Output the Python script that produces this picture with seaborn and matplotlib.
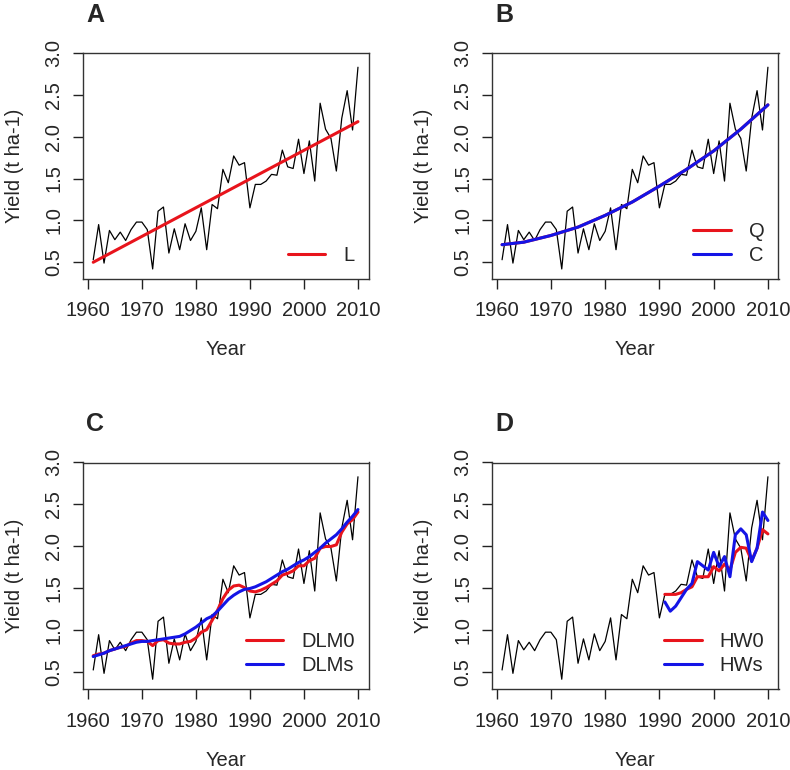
import numpy as np
import matplotlib
matplotlib.use("Agg")
import matplotlib.pyplot as plt
import seaborn as sns

# ── Data ──────────────────────────────────────────────────────────────────────
YEARS = list(range(1961, 2011))

YIELD = [0.53, 0.95, 0.49, 0.88, 0.77, 0.86, 0.76, 0.89, 0.98, 0.98,
         0.89, 0.42, 1.11, 1.16, 0.61, 0.90, 0.65, 0.96, 0.76, 0.87,
         1.15, 0.65, 1.19, 1.14, 1.61, 1.45, 1.77, 1.66, 1.69, 1.15,
         1.43, 1.43, 1.47, 1.55, 1.54, 1.84, 1.64, 1.62, 1.97, 1.56,
         1.95, 1.47, 2.40, 2.09, 1.98, 1.59, 2.22, 2.55, 2.08, 2.83]

# A: linear trend (end points)
L_YEARS = [1961, 2010]
L_VALS  = [0.50, 2.18]

# B: quadratic / cubic trends
QC_YEARS = [1961, 1965, 1970, 1975, 1980, 1985, 1990, 1995, 2000, 2005, 2010]
Q_VALS   = [0.71, 0.74, 0.82, 0.92, 1.06, 1.22, 1.41, 1.61, 1.83, 2.09, 2.38]
C_VALS   = [0.71, 0.74, 0.82, 0.92, 1.06, 1.22, 1.41, 1.61, 1.83, 2.09, 2.38]

# C: dynamic linear models
DLM0 = [0.70, 0.72, 0.73, 0.76, 0.78, 0.80, 0.81, 0.85, 0.88, 0.88,
        0.87, 0.82, 0.88, 0.89, 0.85, 0.84, 0.84, 0.86, 0.87, 0.91,
        0.98, 1.01, 1.12, 1.24, 1.38, 1.48, 1.53, 1.54, 1.51, 1.47,
        1.46, 1.48, 1.51, 1.55, 1.59, 1.66, 1.68, 1.71, 1.77, 1.77,
        1.83, 1.86, 1.98, 2.00, 2.00, 2.02, 2.17, 2.27, 2.32, 2.41]
DLMS = [0.69, 0.71, 0.73, 0.76, 0.78, 0.80, 0.82, 0.84, 0.86, 0.87,
        0.87, 0.88, 0.89, 0.90, 0.91, 0.92, 0.93, 0.96, 1.00, 1.04,
        1.09, 1.14, 1.17, 1.23, 1.30, 1.37, 1.42, 1.46, 1.49, 1.50,
        1.52, 1.55, 1.58, 1.62, 1.66, 1.70, 1.73, 1.77, 1.81, 1.84,
        1.88, 1.93, 1.98, 2.04, 2.09, 2.14, 2.21, 2.29, 2.36, 2.44]

# D: Holt-Winters forecasts
HW_YEARS = list(range(1991, 2011))
HW0 = [1.43, 1.43, 1.43, 1.45, 1.49, 1.52, 1.64, 1.64, 1.64, 1.76,
       1.71, 1.79, 1.72, 1.93, 1.99, 1.98, 1.83, 1.98, 2.20, 2.15]
HWS = [1.34, 1.23, 1.29, 1.39, 1.49, 1.56, 1.82, 1.77, 1.72, 1.93,
       1.76, 1.88, 1.64, 2.14, 2.21, 2.14, 1.82, 1.98, 2.41, 2.31]

X_TICKS = [1960, 1970, 1980, 1990, 2000, 2010]
Y_TICKS = [0.5, 1.0, 1.5, 2.0, 2.5, 3.0]

# ── Style ─────────────────────────────────────────────────────────────────────
sns.set_style("ticks")
plt.rcParams["font.family"] = ["Liberation Sans", "DejaVu Sans"]

RED  = "#e8141c"
BLUE = "#1414e6"
FS   = 14.5

fig = plt.figure(figsize=(7.9, 7.7), dpi=100)
W, H = 790, 770


def make_ax(x0, y0, x1, y1):
    return fig.add_axes([x0 / W, 1 - y1 / H, (x1 - x0) / W, (y1 - y0) / H])


def style_ax(ax, letter):
    ax.set_xlim(1959.05, 2011.95)
    ax.set_ylim(0.3, 3.0)
    ax.set_xticks(X_TICKS)
    ax.set_xticklabels([str(t) for t in X_TICKS], fontsize=FS)
    ax.set_yticks(Y_TICKS)
    ax.set_yticklabels([f"{t:.1f}" for t in Y_TICKS], fontsize=FS,
                       rotation=90, va="center")
    ax.tick_params(axis="x", length=7, width=1, color="#222222", pad=9)
    ax.tick_params(axis="y", length=7, width=1, color="#222222", pad=7)
    for s in ax.spines.values():
        s.set_visible(True)
        s.set_color("#333333")
        s.set_linewidth(1.0)
    ax.set_xlabel("Year", fontsize=FS)
    ax.set_ylabel("Yield (t ha-1)", fontsize=FS)
    ax.xaxis.set_label_coords(0.5, -0.27)
    ax.yaxis.set_label_coords(-0.205, 0.5)
    ax.text(0.012, 1.168, letter, transform=ax.transAxes, fontsize=18,
            fontweight="bold", ha="left", va="center")
    leg = ax.legend(loc="lower right", frameon=False, fontsize=FS,
                    handlelength=1.85, handletextpad=0.9, labelspacing=0.25,
                    borderaxespad=0.3)
    for h in leg.get_lines():
        h.set_linewidth(2.2)


def raw(ax, years, vals):
    sns.lineplot(x=years, y=vals, color="black", linewidth=0.9, ax=ax,
                 estimator=None)


def fit(ax, years, vals, color, label):
    sns.lineplot(x=years, y=vals, color=color, linewidth=2.2, ax=ax,
                 estimator=None, label=label)


# A
ax = make_ax(82.7, 53, 368.5, 279)
raw(ax, YEARS, YIELD)
fit(ax, L_YEARS, L_VALS, RED, "L")
style_ax(ax, "A")

# B
ax = make_ax(491.5, 53, 778.5, 279)
raw(ax, YEARS, YIELD)
fit(ax, QC_YEARS, Q_VALS, RED, "Q")
fit(ax, QC_YEARS, C_VALS, BLUE, "C")
style_ax(ax, "B")

# C
ax = make_ax(82.7, 462.5, 368.5, 689.3)
raw(ax, YEARS, YIELD)
fit(ax, YEARS, DLM0, RED, "DLM0")
fit(ax, YEARS, DLMS, BLUE, "DLMs")
style_ax(ax, "C")

# D
ax = make_ax(491.5, 462.5, 778.5, 689.3)
raw(ax, YEARS, YIELD)
fit(ax, HW_YEARS, HW0, RED, "HW0")
fit(ax, HW_YEARS, HWS, BLUE, "HWs")
style_ax(ax, "D")

fig.savefig("out.png", dpi=100, facecolor="white")
